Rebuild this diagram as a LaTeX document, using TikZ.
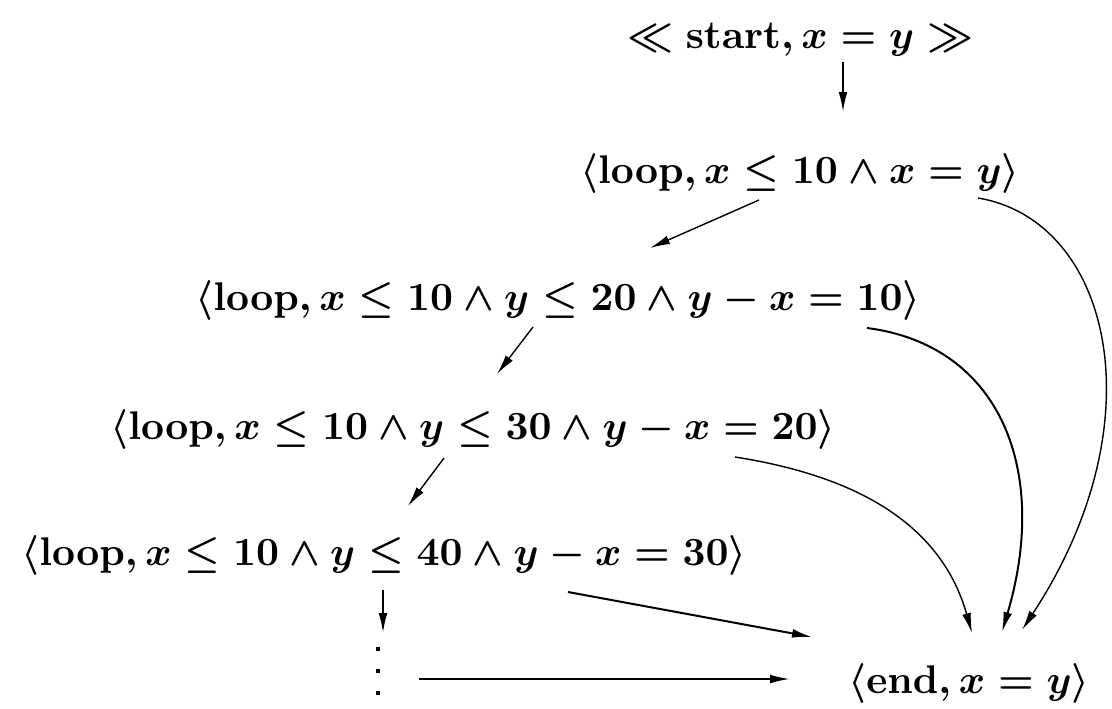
\documentclass[tikz,border=0pt]{standalone}
\usepackage{amsmath}
\usetikzlibrary{arrows.meta}
\begin{document}
\begin{tikzpicture}[x=0.25pt,y=-0.25pt,
  lbl/.style={anchor=base,inner sep=0pt,font=\fontsize{9.6}{11}\selectfont\bfseries\boldmath},
  arr/.style={line width=0.5pt,-{Latex[length=5pt,width=2.2pt]}},
  thinarr/.style={line width=0.35pt,-{Latex[length=5pt,width=2.2pt]}},
  dotline/.style={line width=0.9pt,dash pattern=on 1pt off 4.5pt}]
\useasboundingbox (0,0) rectangle (1112,708);
\node[lbl] (s)  at (800,48)  {$\ll \mathbf{start}, x = y \gg$};
\node[lbl] (l1) at (800,183) {$\langle \mathbf{loop}, x \leq 10 \wedge x = y\rangle$};
\node[lbl] (l2) at (558,310) {$\langle \mathbf{loop}, x \leq 10 \wedge y \leq 20 \wedge y - x = 10\rangle$};
\node[lbl] (l3) at (473,439) {$\langle \mathbf{loop}, x \leq 10 \wedge y \leq 30 \wedge y - x = 20\rangle$};
\node[lbl] (l4) at (384,565) {$\langle \mathbf{loop}, x \leq 10 \wedge y \leq 40 \wedge y - x = 30\rangle$};
\node[lbl] (e)  at (969,693) {$\langle \mathbf{end}, x = y\rangle$};
% dots below the last loop state
\coordinate (dtop) at ([shift={(-6,82)}]l4.base);
\coordinate (dbot) at ([shift={(-6,135)}]l4.base);
\draw[dotline] (dtop) -- (dbot);
% connectors
\draw[arr] ([shift={(43,14)}]s.base) -- ([shift={(43,-71)}]l1.base);
\draw[thinarr] ([shift={(-41,17)}]l1.base) -- ([shift={(92,-62)}]l2.base);
\draw[thinarr] ([shift={(-25,17)}]l2.base) -- ([shift={(24,-65)}]l3.base);
\draw[thinarr] ([shift={(-29,19)}]l3.base) -- ([shift={(24,-59)}]l4.base);
\draw[arr] ([shift={(-1,25)}]l4.base) -- ([shift={(5,-14)}]dtop);
\draw[arr] ([shift={(-550,-14)}]e.base) -- ([shift={(-179,-14)}]e.base);
\draw[arr] ([shift={(184,27)}]l4.base) -- ([shift={(-157,-56)}]e.base);
\draw[thinarr] ([shift={(178,15)}]l1.base) .. controls (1110,220) and (1160,420) .. ([shift={(53,-63)}]e.base);
\draw[arr] ([shift={(309,18)}]l2.base) .. controls (1000,345) and (1050,470) .. ([shift={(33,-61)}]e.base);
\draw[thinarr] ([shift={(262,18)}]l3.base) .. controls (850,475) and (940,520) .. ([shift={(3,-60)}]e.base);
\end{tikzpicture}
\end{document}
